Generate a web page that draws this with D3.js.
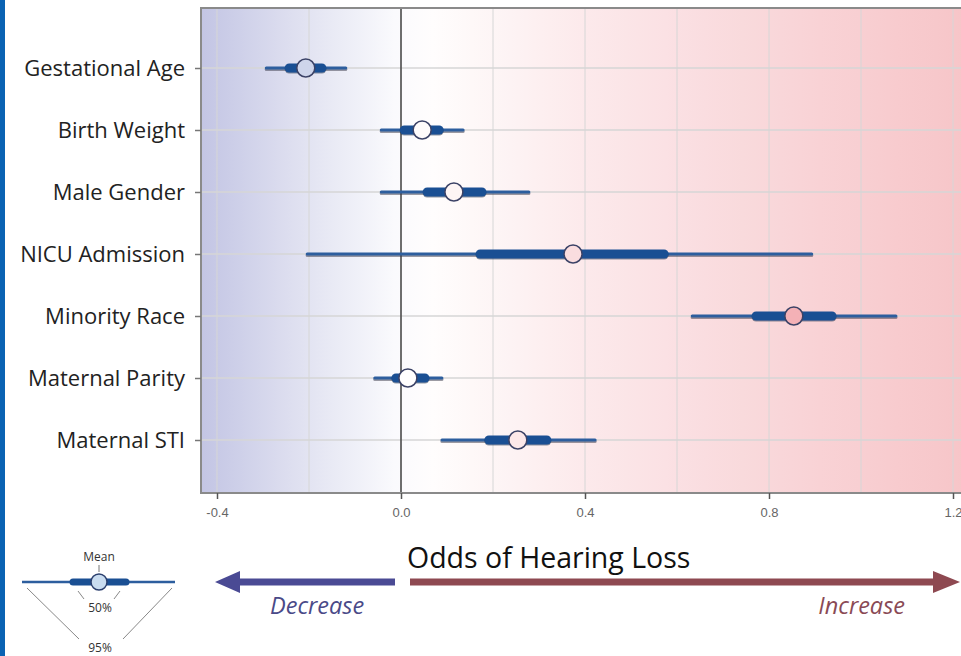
<!DOCTYPE html>
<html>
<head>
<meta charset="utf-8">
<script src="https://cdn.jsdelivr.net/npm/d3@7"></script>
<style>
  body { margin: 0; background: #fff; }
  svg { display: block; }
</style>
</head>
<body>
<svg id="svg"></svg>
<script>
    var w = 961;
    var h = 656;

    // data
    var factors = ["Gestational Age", "Birth Weight", "Male Gender", "NICU Admission",
                   "Minority Race", "Maternal Parity", "Maternal STI"];
    var means  = [-0.207, 0.046, 0.115, 0.374, 0.854, 0.015, 0.254];
    var lo95   = [-0.293, -0.043, -0.043, -0.204, 0.633, -0.057, 0.089];
    var hi95   = [-0.120, 0.135, 0.278, 0.893, 1.076, 0.089, 0.422];
    var lo50   = [-0.243, 0.007, 0.057, 0.172, 0.772, -0.011, 0.191];
    var hi50   = [-0.172, 0.083, 0.176, 0.572, 0.937, 0.052, 0.317];
    var xTicks = [-0.4, 0.0, 0.4, 0.8, 1.2];
    var xGrid  = [-0.4, -0.2, 0.0, 0.2, 0.4, 0.6, 0.8, 1.0, 1.2];

    // note: "top" is taken by window.top, so plot edges get their own names
    var pLeft = 201, pRight = 975, pTop = 8, pBottom = 493;
    var font = "'Open Sans', Lato, sans-serif";

    var x = d3.scaleLinear().domain([-0.4, 1.2]).range([217, 953]);
    var y = d3.scalePoint().domain(factors).range([68, 440]);

    var bg = d3.scaleLinear()
        .domain([-0.435, -0.2, 0.03, 0.4, 0.8, 1.25])
        .range(["#c3c5e4", "#e3e4f2", "#ffffff", "#fce9eb", "#f9d7da", "#f7c4c7"]);
    var dotFill = d3.scaleLinear()
        .domain([-0.3, 0.0, 0.9])
        .range(["#b8c2e2", "#ffffff", "#f3adb2"]);

    var svg = d3.select("#svg")
        .attr("width", w)
        .attr("height", h)
        .style("font-family", font);

    // blue page edge
    svg.append("rect").attr("x", 0).attr("y", 0).attr("width", 5).attr("height", h)
        .attr("fill", "#0a63b3");

    var defs = svg.append("defs");
    var grad = defs.append("linearGradient").attr("id", "bgGrad")
        .attr("gradientUnits", "userSpaceOnUse")
        .attr("x1", pLeft).attr("x2", pRight).attr("y1", 0).attr("y2", 0);
    d3.range(0, 21).forEach(function(i) {
        var px = pLeft + (pRight - pLeft) * i / 20;
        grad.append("stop").attr("offset", (i / 20))
            .attr("stop-color", bg(x.invert(px)));
    });

    svg.append("rect")
        .attr("x", pLeft).attr("y", pTop)
        .attr("width", pRight - pLeft).attr("height", pBottom - pTop)
        .attr("fill", "url(#bgGrad)");

    var chart = svg.append("g");

    // grid
    chart.selectAll("line.vgrid").data(xGrid).enter().append("line")
        .attr("class", "vgrid")
        .attr("x1", function(d) { return x(d); }).attr("x2", function(d) { return x(d); })
        .attr("y1", pTop).attr("y2", pBottom)
        .attr("stroke", "#d6d6d6").attr("stroke-width", 1);
    chart.selectAll("line.hgrid").data(factors).enter().append("line")
        .attr("class", "hgrid")
        .attr("x1", pLeft).attr("x2", pRight)
        .attr("y1", function(d) { return y(d); }).attr("y2", function(d) { return y(d); })
        .attr("stroke", "#d6d6d6").attr("stroke-width", 1.5);

    // zero line
    chart.append("line")
        .attr("x1", x(0)).attr("x2", x(0)).attr("y1", pTop).attr("y2", pBottom)
        .attr("stroke", "#444").attr("stroke-width", 1.5);

    // frame
    chart.append("path")
        .attr("d", "M" + pRight + "," + pTop + "H" + pLeft + "V" + pBottom + "H" + pRight)
        .attr("fill", "none").attr("stroke", "#8a8a8a").attr("stroke-width", 2);

    // x axis
    var xAxis = d3.axisBottom(x).tickValues(xTicks).tickSize(6).tickPadding(9)
        .tickFormat(function(d) { return d3.format(".1f")(d).replace("\u2212", "-"); });
    var gx = svg.append("g").attr("transform", "translate(0," + pBottom + ")").call(xAxis);
    gx.select(".domain").remove();
    gx.selectAll(".tick line").attr("stroke", "#555").attr("stroke-width", 1.5);
    gx.selectAll(".tick text")
        .attr("fill", "#666").style("font-family", "'Liberation Sans', Arial, sans-serif")
        .style("font-size", "13px");

    // y axis
    var yAxis = d3.axisLeft(y).tickSize(6).tickPadding(10);
    var gy = svg.append("g").attr("transform", "translate(" + pLeft + ",0)").call(yAxis);
    gy.select(".domain").remove();
    gy.selectAll(".tick line").attr("stroke", "#777").attr("stroke-width", 1.5);
    gy.selectAll(".tick text").attr("fill", "#222")
        .style("font-family", font)
        .style("font-size", "22px");

    var rows = factors.map(function(f, i) {
        return { name: f, mean: means[i], lo95: lo95[i], hi95: hi95[i], lo50: lo50[i], hi50: hi50[i] };
    });

    var g = chart.selectAll("g.row").data(rows).enter().append("g")
        .attr("class", "row")
        .attr("transform", function(d) { return "translate(0," + y(d.name) + ")"; });

    // shadow + 95% whisker
    g.append("line")
        .attr("x1", function(d) { return x(d.lo95); }).attr("x2", function(d) { return x(d.hi95); })
        .attr("y1", 1.5).attr("y2", 1.5)
        .attr("stroke", "#3a3a4a").attr("stroke-opacity", 0.5).attr("stroke-width", 3)
        .attr("stroke-linecap", "round");
    g.append("line")
        .attr("x1", function(d) { return x(d.lo95); }).attr("x2", function(d) { return x(d.hi95); })
        .attr("y1", 0).attr("y2", 0)
        .attr("stroke", "#2d5e9e").attr("stroke-width", 3)
        .attr("stroke-linecap", "round");
    // 50% bar
    g.append("line")
        .attr("x1", function(d) { return x(d.lo50); }).attr("x2", function(d) { return x(d.hi50); })
        .attr("y1", 1).attr("y2", 1)
        .attr("stroke", "#20304a").attr("stroke-opacity", 0.5).attr("stroke-width", 9)
        .attr("stroke-linecap", "round");
    g.append("line")
        .attr("x1", function(d) { return x(d.lo50); }).attr("x2", function(d) { return x(d.hi50); })
        .attr("y1", 0).attr("y2", 0)
        .attr("stroke", "#1a4f93").attr("stroke-width", 9)
        .attr("stroke-linecap", "round");
    // mean
    g.append("circle")
        .attr("cx", function(d) { return x(d.mean); }).attr("cy", 0).attr("r", 9)
        .attr("fill", function(d) { return dotFill(d.mean); })
        .attr("stroke", "#3b4266").attr("stroke-width", 1.5);

    // title + arrows
    svg.append("text").attr("x", 407).attr("y", 568)
        .attr("fill", "#111").style("font-size", "28.5px")
        .text("Odds of Hearing Loss");

    var arrowY = 582;
    svg.append("path")
        .attr("d", "M395," + (arrowY - 3.5) + "H240V" + (arrowY - 11) + "L215," + arrowY +
                   "L240," + (arrowY + 11) + "V" + (arrowY + 3.5) + "H395Z")
        .attr("fill", "#4a4a94");
    svg.append("path")
        .attr("d", "M410," + (arrowY - 3.5) + "H933V" + (arrowY - 11) + "L960," + arrowY +
                   "L933," + (arrowY + 11) + "V" + (arrowY + 3.5) + "H410Z")
        .attr("fill", "#8e4951");
    svg.append("text").attr("x", 270).attr("y", 614)
        .attr("fill", "#4a4a88").style("font-size", "23.5px").style("font-style", "italic")
        .text("Decrease");
    svg.append("text").attr("x", 905).attr("y", 614).attr("text-anchor", "end")
        .attr("fill", "#8a4a55").style("font-size", "23.5px").style("font-style", "italic")
        .text("Increase");

    // legend
    var lg = svg.append("g");
    lg.append("line").attr("x1", 22).attr("x2", 175).attr("y1", 582).attr("y2", 582)
        .attr("stroke", "#2d5e9e").attr("stroke-width", 2.5);
    lg.append("line").attr("x1", 73).attr("x2", 126).attr("y1", 582).attr("y2", 582)
        .attr("stroke", "#1a4f93").attr("stroke-width", 7).attr("stroke-linecap", "round");
    lg.append("circle").attr("cx", 99).attr("cy", 582).attr("r", 8)
        .attr("fill", "#c9dcf0").attr("stroke", "#2b3f6e").attr("stroke-width", 1.5);
    lg.append("line").attr("x1", 99).attr("x2", 99).attr("y1", 565).attr("y2", 572)
        .attr("stroke", "#777").attr("stroke-width", 1);
    lg.append("text").attr("x", 99).attr("y", 561).attr("text-anchor", "middle")
        .attr("fill", "#333").style("font-size", "12px").text("Mean");
    lg.append("line").attr("x1", 78).attr("x2", 84).attr("y1", 591).attr("y2", 599)
        .attr("stroke", "#888");
    lg.append("line").attr("x1", 120).attr("x2", 114).attr("y1", 591).attr("y2", 599)
        .attr("stroke", "#888");
    lg.append("text").attr("x", 100).attr("y", 612).attr("text-anchor", "middle")
        .attr("fill", "#333").style("font-size", "12px").text("50%");
    lg.append("line").attr("x1", 27).attr("x2", 79).attr("y1", 588).attr("y2", 639)
        .attr("stroke", "#888");
    lg.append("line").attr("x1", 172).attr("x2", 123).attr("y1", 588).attr("y2", 639)
        .attr("stroke", "#888");
    lg.append("text").attr("x", 100).attr("y", 652).attr("text-anchor", "middle")
        .attr("fill", "#333").style("font-size", "12px").text("95%");
</script>
</body>
</html>
